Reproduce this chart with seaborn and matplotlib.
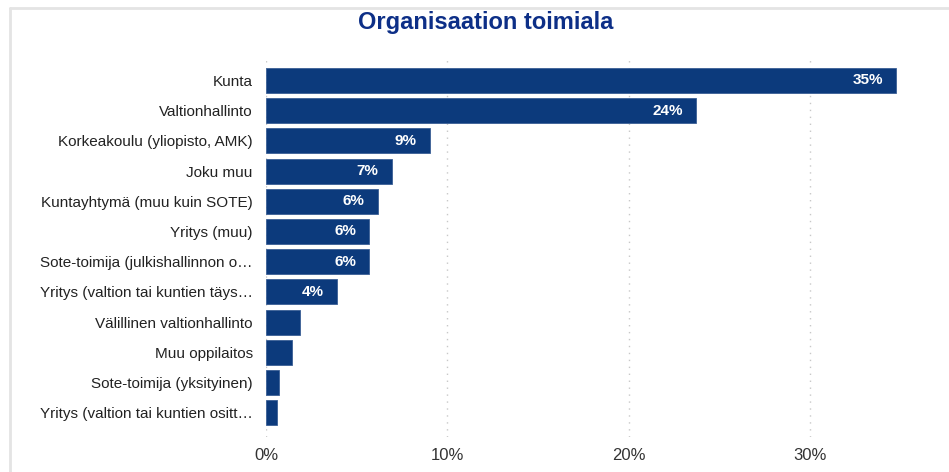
import matplotlib
matplotlib.use("Agg")
import matplotlib.pyplot as plt
import seaborn as sns
import pandas as pd
from matplotlib.lines import Line2D

categories = [
    "Kunta",
    "Valtionhallinto",
    "Korkeakoulu (yliopisto, AMK)",
    "Joku muu",
    "Kuntayhtymä (muu kuin SOTE)",
    "Yritys (muu)",
    "Sote-toimija (julkishallinnon o…",
    "Yritys (valtion tai kuntien täys…",
    "Välillinen valtionhallinto",
    "Muu oppilaitos",
    "Sote-toimija (yksityinen)",
    "Yritys (valtion tai kuntien ositt…",
]
values = [34.75, 23.7, 9.04, 6.94, 6.17, 5.69, 5.69, 3.89, 1.87, 1.41, 0.72, 0.62]
value_labels = ["35%", "24%", "9%", "7%", "6%", "6%", "6%", "4%", "", "", "", ""]
xticks = [0, 10, 20, 30]
xtick_labels = ["0%", "10%", "20%", "30%"]
title = "Organisaation toimiala"

df = pd.DataFrame({"cat": categories, "val": values})

sns.set_theme(style="white")
plt.rcParams["font.family"] = ["Liberation Sans", "DejaVu Sans"]

W, H = 949, 472
fig = plt.figure(figsize=(W / 100, H / 100), dpi=100)
ax = fig.add_axes([266 / W, 1 - 436.8 / H, (919 - 266) / W, (436.8 - 56.3) / H])

bar_color = "#0c3a7c"
sns.barplot(data=df, x="val", y="cat", color=bar_color, saturation=1,
            width=0.83, ax=ax, edgecolor="#3a5f95", linewidth=0.6)

ax.set_xlim(0, 36)
ax.set_ylim(11.8, -0.8)
ax.set_xticks(xticks)
ax.set_xticklabels(xtick_labels, fontsize=12, color="#333333")
ax.set_xlabel("")
ax.set_ylabel("")
ax.tick_params(axis="y", length=0, pad=9.5, labelsize=11, labelcolor="#222222")
ax.tick_params(axis="x", length=0, pad=8)
for s in ax.spines.values():
    s.set_visible(False)
ax.grid(False)
for xv in xticks:
    ax.axvline(xv, color="#c8c8c8", linestyle=(0, (1, 4)), linewidth=1.0, zorder=0)

for i, (v, lab) in enumerate(zip(values, value_labels)):
    if lab:
        ax.annotate(lab, xy=(v, i), xytext=(-9.5, 0), textcoords="offset points",
                    ha="right", va="center", color="white", fontweight="bold",
                    fontsize=11)

fig.text(486 / W, 1 - 22 / H, title, ha="center", va="center",
         fontsize=17, fontweight="bold", color="#0d2f87")

# light frame (left and top)
fig.add_artist(Line2D([10 / W, 10 / W], [0, 1 - 8 / H], transform=fig.transFigure,
                      color="#e4e4e4", linewidth=2))
fig.add_artist(Line2D([10 / W, 1], [1 - 8 / H, 1 - 8 / H], transform=fig.transFigure,
                      color="#e4e4e4", linewidth=2))

fig.savefig("out.png", dpi=100)
